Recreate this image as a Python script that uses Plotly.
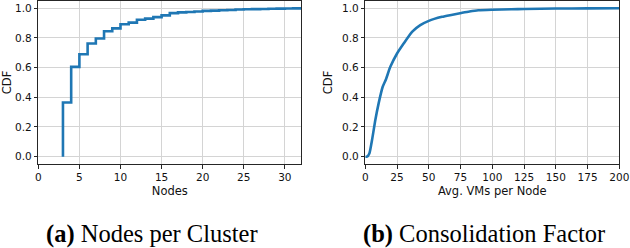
import plotly.graph_objects as go
from plotly.subplots import make_subplots

# Panel (a): nodes per cluster (step CDF)
nodes = [3, 3, 4, 5, 6, 7, 8, 9, 10, 11, 12, 13, 14, 15, 16, 17, 18, 19, 20,
         21, 22, 23, 24, 25, 26, 27, 28, 29, 30, 31, 32, 40]
nodes_cdf = [0.0, 0.365, 0.605, 0.69, 0.762, 0.796, 0.845, 0.864, 0.892, 0.903,
             0.922, 0.93, 0.94, 0.952, 0.967, 0.972, 0.975, 0.978, 0.982, 0.984,
             0.986, 0.988, 0.991, 0.993, 0.994, 0.995, 0.996, 0.997, 0.998,
             0.999, 0.999, 1.0]

# Panel (b): consolidation factor (avg VMs per node)
vms = [0, 1.3, 3.2, 5.3, 7.9, 10.5, 13.7, 16.3, 19.7, 25, 30.2, 36.8, 43.3,
       50, 60.4, 67.7, 75.6, 82, 89, 100, 115, 125, 150, 175, 200]
vms_cdf = [0.0, 0.0, 0.022, 0.112, 0.247, 0.359, 0.471, 0.522, 0.605, 0.695,
           0.762, 0.841, 0.886, 0.915, 0.942, 0.955, 0.968, 0.978, 0.986,
           0.99, 0.993, 0.995, 0.998, 0.999, 1.0]

y_ticks = [0.0, 0.2, 0.4, 0.6, 0.8, 1.0]
x_ticks_a = [0, 5, 10, 15, 20, 25, 30]
x_ticks_b = [0, 25, 50, 75, 100, 125, 150, 175, 200]

BLUE = "#1f77b4"
GRID = "#d4d4d4"
SPINE = "#262626"
FONT = "DejaVu Sans"

fig = make_subplots(rows=1, cols=2)

fig.add_trace(go.Scatter(x=nodes, y=nodes_cdf, mode="lines",
                         line=dict(color=BLUE, width=2.6, shape="hv"),
                         showlegend=False), row=1, col=1)
fig.add_trace(go.Scatter(x=vms, y=vms_cdf, mode="lines",
                         line=dict(color=BLUE, width=2.6, shape="spline", smoothing=0.6),
                         showlegend=False), row=1, col=2)

axis_common = dict(showline=True, linecolor=SPINE, linewidth=1, mirror=True,
                   ticks="outside", ticklen=3.5, tickwidth=1, tickcolor=SPINE,
                   showgrid=True, gridcolor=GRID, gridwidth=1.2, zeroline=False,
                   automargin=False,
                   tickfont=dict(family=FONT, size=10.5, color="#111"))

fig.update_xaxes(**axis_common)
fig.update_yaxes(**axis_common)

ydom = [1 - 164.1 / 248, 1 - 0.8 / 248]
fig.update_layout(
    xaxis=dict(domain=[38.3 / 630, 301.3 / 630], range=[0, 32],
               tickvals=x_ticks_a,
               title=dict(text="Nodes", standoff=4,
                          font=dict(family=FONT, size=11.5, color="#111"))),
    yaxis=dict(domain=ydom, range=[-0.05, 1.05], tickvals=y_ticks, tickformat=".1f",
               title=dict(text="CDF", standoff=6,
                          font=dict(family=FONT, size=11.5, color="#111"))),
    xaxis2=dict(domain=[365.3 / 630, 619.3 / 630], range=[0, 200],
                tickvals=x_ticks_b,
                title=dict(text="Avg. VMs per Node", standoff=4,
                           font=dict(family=FONT, size=11.5, color="#111"))),
    yaxis2=dict(domain=ydom, range=[-0.05, 1.05], tickvals=y_ticks, tickformat=".1f",
                title=dict(text="CDF", standoff=6,
                           font=dict(family=FONT, size=11.5, color="#111"))),
    width=630, height=248,
    margin=dict(l=0, r=0, t=0, b=0, autoexpand=False),
    paper_bgcolor="white", plot_bgcolor="white",
    annotations=[
        dict(text="<b>(a)</b> Nodes per Cluster", x=151.5 / 630, y=1 - 234 / 248,
             xref="paper", yref="paper", xanchor="center", yanchor="middle",
             showarrow=False, font=dict(family="Liberation Serif", size=24.5, color="black")),
        dict(text="<b>(b)</b> Consolidation Factor", x=483.5 / 630, y=1 - 234 / 248,
             xref="paper", yref="paper", xanchor="center", yanchor="middle",
             showarrow=False, font=dict(family="Liberation Serif", size=24.5, color="black")),
    ],
)

fig.write_html("out.html", config={"displayModeBar": False},
               post_script="document.body.style.margin='0';document.body.style.padding='0';")
